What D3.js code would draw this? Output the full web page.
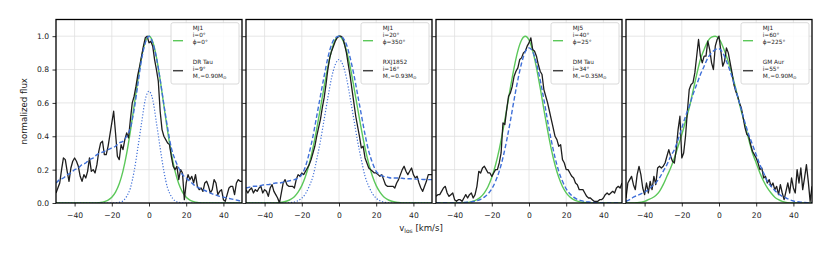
<!DOCTYPE html>
<html>
<head>
<meta charset="utf-8">
<script src="https://cdn.jsdelivr.net/npm/d3@7"></script>
<style>
  body { margin: 0; background: #fff; }
  svg { display: block; font-family: "DejaVu Sans", sans-serif; }
</style>
</head>
<body>
<svg id="chart" width="831" height="254"></svg>
<script>
// velocity channels, km/s
const vModel = [-50, -48, -46, -44, -42, -40, -38, -36, -34, -32, -30, -28, -26, -24, -22, -20, -18, -16, -14, -12, -10, -8, -6, -4, -2,
    0, 2, 4, 6, 8, 10, 12, 14, 16, 18, 20, 22, 24, 26, 28, 30, 32, 34, 36, 38, 40, 42, 44, 46, 48, 50]
const vObs = [-50, -49, -48, -47, -46, -45, -44, -43, -42, -41, -40, -39, -38, -37, -36, -35, -34, -33, -32, -31,
    -30, -29, -28, -27, -26, -25, -24, -23, -22, -21, -20, -19, -18, -17, -16, -15, -14, -13, -12, -11,
    -10, -9, -8, -7, -6, -5, -4, -3, -2, -1, 0, 1, 2, 3, 4, 5, 6, 7, 8, 9, 10,
    11, 12, 13, 14, 15, 16, 17, 18, 19, 20, 21, 22, 23, 24, 25, 26, 27, 28, 29, 30,
    31, 32, 33, 34, 35, 36, 37, 38, 39, 40, 41, 42, 43, 44, 45, 46, 47, 48, 49, 50]

// legend labels
const modelNames = ['MJ1', 'MJ1', 'MJ5', 'MJ1']
const modelInc = ['0', '20', '40', '60']
const modelPhi = ['0', '350', '25', '225']
const starNames = ['DR Tau', 'RXJ1852', 'DM Tau', 'GM Aur']
const starInc = ['9', '16', '34', '55']
const starMass = ['0.90', '0.93', '0.35', '0.90']

const xTicks = [-40, -20, 0, 20, 40]
const yTicks = [0, 0.2, 0.4, 0.6, 0.8, 1.0]

// panel 1: DR Tau
const green1 = [0, 0, 0, 0, 0, 0, 0, 0, 0, 0, 0, 0.001, 0.003, 0.008, 0.017, 0.034, 0.065, 0.115, 0.191, 0.297, 0.431, 0.583, 0.738, 0.874, 0.967,
    1.0, 0.967, 0.874, 0.738, 0.583, 0.431, 0.297, 0.191, 0.115, 0.065, 0.034, 0.017, 0.008, 0.003, 0.001, 0, 0, 0, 0, 0, 0, 0, 0, 0, 0, 0]
const dashed1 = [0.12, 0.14, 0.15, 0.17, 0.18, 0.20, 0.21, 0.23, 0.24, 0.26, 0.27, 0.29, 0.30, 0.31, 0.32, 0.33, 0.34, 0.36, 0.37, 0.40, 0.45, 0.56, 0.71, 0.86, 0.96,
    1.0, 0.96, 0.87, 0.74, 0.59, 0.45, 0.33, 0.26, 0.21, 0.17, 0.15, 0.13, 0.11, 0.095, 0.085, 0.075, 0.065, 0.055, 0.048, 0.04, 0.035, 0.03, 0.025, 0.02, 0.015, 0.01]
const dotted1 = [0, 0, 0, 0, 0, 0, 0, 0, 0, 0, 0, 0, 0, 0, 0, 0, 0.001, 0.004, 0.013, 0.04, 0.09, 0.19, 0.33, 0.48, 0.62,
    0.67, 0.62, 0.48, 0.33, 0.19, 0.09, 0.04, 0.013, 0.004, 0.001, 0, 0, 0, 0, 0, 0, 0, 0, 0, 0, 0, 0, 0, 0, 0, 0]
const obs1 = [0.06, 0.09, 0.12, 0.20, 0.27, 0.26, 0.19, 0.13, 0.21, 0.25,
    0.27, 0.25, 0.22, 0.16, 0.13, 0.17, 0.15, 0.19, 0.27, 0.19,
    0.20, 0.18, 0.23, 0.31, 0.36, 0.37, 0.29, 0.29, 0.34, 0.41,
    0.48, 0.55, 0.42, 0.28, 0.26, 0.35, 0.32, 0.38, 0.42, 0.39,
    0.50, 0.60, 0.64, 0.70, 0.77, 0.82, 0.88, 0.94, 0.99, 1.0,
    0.96,
    0.97, 0.94, 0.86, 0.80, 0.73, 0.55, 0.44, 0.40, 0.38, 0.36,
    0.35, 0.28, 0.22, 0.20, 0.22, 0.14, 0.20, 0.18, 0.02, 0.12,
    0.17, 0.14, 0.16, 0.12, 0.17, 0.10, 0.08, 0.09, 0.07, 0.12,
    0.13, 0.10, 0.06, 0.08, 0.14, 0.12, 0.05, 0.07, 0.08, 0.02,
    0.01, 0.05, 0.09, 0.10, 0.10, 0.05, 0.12, 0.14, 0.13, 0.13]

// panel 2: RXJ1852
const green2 = [0, 0, 0, 0, 0, 0, 0, 0, 0.001, 0.003, 0.006, 0.012, 0.022, 0.038, 0.065, 0.104, 0.160, 0.235, 0.330, 0.443, 0.568, 0.696, 0.816, 0.913, 0.978,
    1.0, 0.978, 0.913, 0.816, 0.696, 0.568, 0.443, 0.330, 0.235, 0.160, 0.104, 0.065, 0.038, 0.022, 0.012, 0.006, 0.003, 0.001, 0, 0, 0, 0, 0, 0, 0, 0]
const dashed2 = [0.09, 0.095, 0.10, 0.10, 0.105, 0.11, 0.11, 0.115, 0.12, 0.12, 0.125, 0.13, 0.135, 0.14, 0.15, 0.17, 0.22, 0.30, 0.40, 0.52, 0.64, 0.76, 0.87, 0.95, 0.99,
    1.0, 0.99, 0.95, 0.87, 0.77, 0.65, 0.53, 0.41, 0.31, 0.24, 0.19, 0.17, 0.16, 0.155, 0.15, 0.15, 0.15, 0.148, 0.146, 0.145, 0.144, 0.143, 0.142, 0.141, 0.14, 0.14]
const dotted2 = [0, 0, 0, 0, 0, 0, 0, 0, 0, 0, 0, 0, 0.002, 0.006, 0.014, 0.029, 0.056, 0.10, 0.16, 0.26, 0.37, 0.50, 0.63, 0.75, 0.83,
    0.86, 0.83, 0.75, 0.63, 0.50, 0.37, 0.26, 0.16, 0.10, 0.056, 0.029, 0.014, 0.006, 0.002, 0, 0, 0, 0, 0, 0, 0, 0, 0, 0, 0, 0]
const obs2 = [0.08, 0.06, 0.08, 0.09, 0.06, 0.08, 0.07, 0.09, 0.10, 0.06,
    0.08, 0.07, 0.04, 0.09, 0.11, 0.07, 0.05, 0.03, 0.00, 0.06,
    0.12, 0.14, 0.11, 0.10, 0.10, 0.10, 0.09, 0.14, 0.17, 0.16,
    0.18, 0.17, 0.19, 0.21, 0.23, 0.26, 0.30, 0.34, 0.40, 0.45,
    0.50, 0.57, 0.63, 0.71, 0.80, 0.87, 0.91, 0.94, 0.97, 0.99,
    1.0,
    1.0, 0.99, 0.95, 0.90, 0.83, 0.76, 0.68, 0.60, 0.52, 0.46,
    0.40, 0.33, 0.34, 0.27, 0.24, 0.21, 0.20, 0.19, 0.18, 0.18,
    0.17, 0.16, 0.17, 0.14, 0.11, 0.10, 0.10, 0.10, 0.10, 0.09,
    0.12, 0.14, 0.17, 0.20, 0.22, 0.19, 0.17, 0.19, 0.21, 0.17,
    0.15, 0.16, 0.12, 0.09, 0.07, 0.10, 0.13, 0.17, 0.17, 0.17]

// panel 3: DM Tau
const green3 = [0, 0, 0, 0, 0, 0, 0, 0.001, 0.003, 0.0055, 0.011, 0.020, 0.036, 0.061, 0.099, 0.154, 0.228, 0.322, 0.435, 0.561, 0.691, 0.812, 0.912, 0.977, 1.0,
    0.977, 0.912, 0.812, 0.691, 0.561, 0.435, 0.322, 0.228, 0.154, 0.099, 0.061, 0.036, 0.020, 0.011, 0.0055, 0.003, 0.001, 0, 0, 0, 0, 0, 0, 0, 0, 0]
const dashed3 = [0, 0, 0, 0, 0, 0, 0.001, 0.002, 0.004, 0.006, 0.009, 0.014, 0.022, 0.035, 0.055, 0.085, 0.13, 0.19, 0.272, 0.375, 0.493, 0.62, 0.738, 0.838, 0.907,
    0.93, 0.907, 0.838, 0.738, 0.62, 0.493, 0.375, 0.272, 0.19, 0.13, 0.085, 0.055, 0.035, 0.022, 0.014, 0.009, 0.006, 0.004, 0.002, 0.001, 0, 0, 0, 0, 0, 0]
const obs3 = [0.04, 0.05, 0.05, 0.07, 0.09, 0.10, 0.06, 0.04, 0.05, 0.06,
    0.02, 0.01, 0.02, 0.02, 0.01, 0.03, 0.05, 0.03, 0.05, 0.06,
    0.03, 0.05, 0.10, 0.19, 0.18, 0.21, 0.22, 0.20, 0.18, 0.18,
    0.16, 0.18, 0.20, 0.20, 0.24, 0.30, 0.48, 0.47, 0.56, 0.64,
    0.66, 0.70, 0.76, 0.79, 0.81, 0.86, 0.87, 0.90, 0.91, 0.94,
    0.96,
    0.99, 0.92, 0.91, 0.88, 0.83, 0.79, 0.77, 0.68, 0.64, 0.60,
    0.55, 0.50, 0.45, 0.40, 0.38, 0.34, 0.35, 0.26, 0.24, 0.20,
    0.20, 0.18, 0.16, 0.15, 0.12, 0.11, 0.08, 0.08, 0.08, 0.06,
    0.04, 0.03, 0.03, 0.02, 0.01, 0.01, 0.01, 0.02, 0.02, 0.03,
    0.05, 0.06, 0.05, 0.06, 0.07, 0.06, 0.09, 0.10, 0.09, 0.12]

// panel 4: GM Aur
const green4 = [0, 0, 0, 0.002, 0.005, 0.01, 0.02, 0.03, 0.045, 0.07, 0.11, 0.16, 0.21, 0.27, 0.34, 0.41, 0.49, 0.57, 0.67, 0.77, 0.86, 0.92, 0.97, 0.995, 1.0,
    0.985, 0.94, 0.88, 0.81, 0.73, 0.64, 0.55, 0.47, 0.38, 0.30, 0.24, 0.18, 0.13, 0.09, 0.06, 0.035, 0.02, 0.01, 0.004, 0.001, 0, 0, 0, 0, 0, 0]
const dashed4 = [0.01, 0.02, 0.035, 0.045, 0.055, 0.065, 0.08, 0.10, 0.12, 0.15, 0.19, 0.23, 0.28, 0.32, 0.38, 0.45, 0.52, 0.58, 0.65, 0.71, 0.77, 0.82, 0.87, 0.90, 0.92,
    0.925, 0.90, 0.85, 0.79, 0.72, 0.64, 0.56, 0.48, 0.41, 0.35, 0.29, 0.23, 0.18, 0.13, 0.10, 0.075, 0.055, 0.04, 0.03, 0.02, 0.012, 0.008, 0.005, 0.003, 0.002, 0.001]
const obs4 = [0.03, 0.12, 0.14, 0.16, 0.11, 0.08, 0.17, 0.22, 0.17, 0.09,
    0.05, 0.12, 0.06, 0.13, 0.08, 0.16, 0.11, 0.21, 0.22, 0.21,
    0.22, 0.24, 0.28, 0.32, 0.28, 0.25, 0.24, 0.32, 0.44, 0.52,
    0.27, 0.30, 0.40, 0.55, 0.68, 0.71, 0.72, 0.78, 0.88, 0.98,
    0.88, 0.84, 0.88, 0.88, 0.97, 0.92, 0.84, 0.80, 0.94, 0.98,
    1.0,
    0.91, 0.82, 0.85, 0.93, 0.90, 0.84, 0.78, 0.71, 0.67, 0.64,
    0.60, 0.57, 0.51, 0.45, 0.41, 0.40, 0.35, 0.31, 0.29, 0.27,
    0.24, 0.20, 0.21, 0.15, 0.16, 0.12, 0.14, 0.10, 0.12, 0.08,
    0.10, 0.05, 0.11, 0.06, 0.02, 0.07, 0.12, 0.06, 0.15, 0.09,
    0.06, 0.20, 0.12, 0.21, 0.08, 0.15, 0.23, 0.13, 0.01, 0.10]

const panels = [
    { green: green1, dashed: dashed1, dotted: dotted1, obs: obs1 },
    { green: green2, dashed: dashed2, dotted: dotted2, obs: obs2 },
    { green: green3, dashed: dashed3, dotted: null, obs: obs3 },
    { green: green4, dashed: dashed4, dotted: null, obs: obs4 }
]

const greenColor = '#5cc85a'
const blueColor = '#3f6fd8'
const obsColor = '#1e1e1e'

let panelLeft = 56
let panelTop = 19.5
let panelW = 186
let panelH = 183.5
let panelGap = 4

const svg = d3.select('#chart')
svg.append('rect').attr('width', 831).attr('height', 254).attr('fill', '#fff')

let x = d3.scaleLinear().domain([-50, 50]).range([0, panelW])
let y = d3.scaleLinear().domain([0, 1.1]).range([panelH, 0])

function modelLine(vals) {
    return d3.line()
        .x((d, i) => x(vModel[i]))
        .y(d => y(d))
        .curve(d3.curveMonotoneX)(vals)
}

let obsLine = d3.line()
    .x((d, i) => x(vObs[i]))
    .y(d => y(d))

panels.forEach(function (p, i) {
    let g = svg.append('g')
        .attr('transform', 'translate(' + (panelLeft + i * (panelW + panelGap)) + ',' + panelTop + ')')

    g.append('clipPath').attr('id', 'clip' + i)
        .append('rect').attr('width', panelW).attr('height', panelH)

    // grid
    g.append('g').selectAll('line').data(xTicks).enter().append('line')
        .attr('x1', d => x(d)).attr('x2', d => x(d))
        .attr('y1', 0).attr('y2', panelH)
        .attr('stroke', '#e0e0e0').attr('stroke-width', 0.8)
    g.append('g').selectAll('line').data(yTicks).enter().append('line')
        .attr('x1', 0).attr('x2', panelW)
        .attr('y1', d => y(d)).attr('y2', d => y(d))
        .attr('stroke', '#e0e0e0').attr('stroke-width', 0.8)

    let plot = g.append('g').attr('clip-path', 'url(#clip' + i + ')')

    plot.append('path')
        .attr('d', modelLine(p.green))
        .attr('fill', 'none').attr('stroke', greenColor).attr('stroke-width', 1.4)

    plot.append('path')
        .attr('d', obsLine(p.obs))
        .attr('fill', 'none').attr('stroke', obsColor).attr('stroke-width', 1.3)
        .attr('stroke-linejoin', 'round')

    plot.append('path')
        .attr('d', modelLine(p.dashed))
        .attr('fill', 'none').attr('stroke', blueColor).attr('stroke-width', 1.4)
        .attr('stroke-dasharray', '4.5,2.4')

    if (p.dotted) {
        plot.append('path')
            .attr('d', modelLine(p.dotted))
            .attr('fill', 'none').attr('stroke', blueColor).attr('stroke-width', 1.2)
            .attr('stroke-dasharray', '1.2,1.8')
    }

    // axes
    let xAxis = g.append('g')
        .attr('transform', 'translate(0,' + panelH + ')')
        .call(d3.axisBottom(x).tickValues(xTicks).tickSize(3.5).tickPadding(6))
    let yAxis = g.append('g')
        .call(d3.axisLeft(y).tickValues(yTicks).tickSize(3.5).tickPadding(3.5)
            .tickFormat(i === 0 ? d3.format('.1f') : () => ''))
    ;[xAxis, yAxis].forEach(function (a) {
        a.select('.domain').remove()
        a.selectAll('line').attr('stroke', '#000').attr('stroke-width', 0.8)
        a.selectAll('text').attr('fill', '#222').style('font-size', '7.6px')
            .style('font-family', '"DejaVu Sans", sans-serif')
    })

    // frame
    g.append('rect')
        .attr('width', panelW).attr('height', panelH)
        .attr('fill', 'none').attr('stroke', '#000').attr('stroke-width', 1.3)

    // legend
    let lg = g.append('g').attr('transform', 'translate(' + (panelW - 71) + ',3.2)')
    lg.append('rect')
        .attr('width', 68).attr('height', 61.3).attr('rx', 2)
        .attr('fill', '#fff').attr('fill-opacity', 0.85)
        .attr('stroke', '#d0d0d0').attr('stroke-width', 0.8)
    lg.append('line').attr('x1', 2).attr('x2', 12).attr('y1', 18).attr('y2', 18)
        .attr('stroke', greenColor).attr('stroke-width', 1.4)
    lg.append('line').attr('x1', 2).attr('x2', 12).attr('y1', 48).attr('y2', 48)
        .attr('stroke', '#444').attr('stroke-width', 1.5)

    let tx = 21.7
    let fs = '5.8px'
    let lines = [
        [modelNames[i], 7.3],
        ['i=' + modelInc[i] + '°', 14.2],
        ['ϕ=' + modelPhi[i] + '°', 21.3],
        [starNames[i], 41.3],
        ['i=' + starInc[i] + '°', 48.1]
    ]
    lines.forEach(function (l) {
        lg.append('text').attr('x', tx).attr('y', l[1])
            .style('font-size', fs).attr('fill', '#222').text(l[0])
    })
    let mt = lg.append('text').attr('x', tx).attr('y', 55.2).style('font-size', fs).attr('fill', '#222')
    mt.append('tspan').text('M')
    mt.append('tspan').attr('dy', 1.3).style('font-size', '4.2px').text('⋆')
    mt.append('tspan').attr('dy', -1.3).text('=' + starMass[i] + 'M')
    mt.append('tspan').attr('dy', 1.3).style('font-size', '4.2px').text('⊙')
})

// axis labels
svg.append('text')
    .attr('transform', 'translate(24,' + (panelTop + panelH / 2) + ') rotate(-90)')
    .attr('text-anchor', 'middle')
    .attr('dy', '0.35em')
    .style('font-size', '8.6px').attr('fill', '#222')
    .text('normalized flux')

let xl = svg.append('text')
    .attr('x', 421).attr('y', 231)
    .attr('text-anchor', 'middle')
    .style('font-size', '8.6px').attr('fill', '#222')
xl.append('tspan').text('v')
xl.append('tspan').attr('dy', 2).style('font-size', '6px').text('los')
xl.append('tspan').attr('dy', -2).text(' [km/s]')
</script>
</body>
</html>
